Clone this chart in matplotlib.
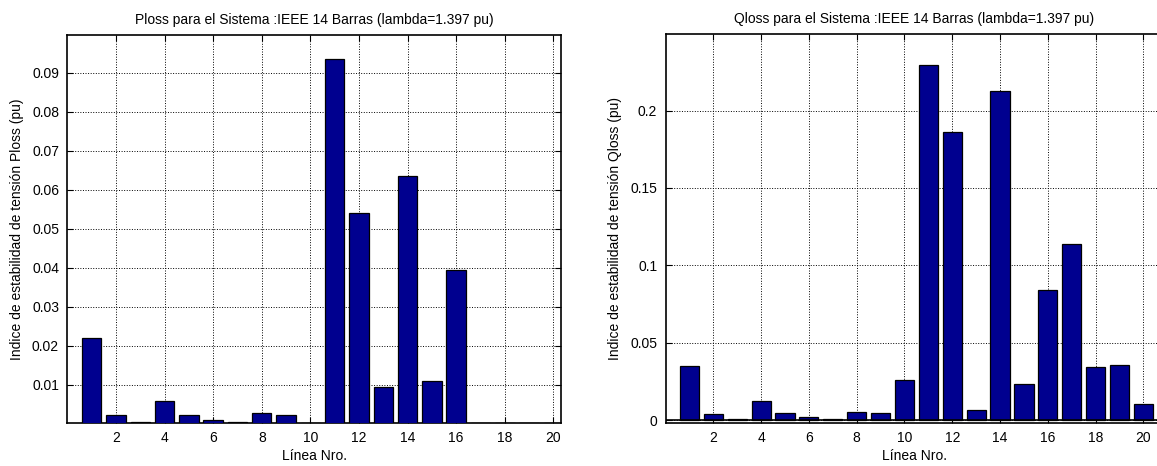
import numpy as np
import matplotlib
matplotlib.use("Agg")
import matplotlib.pyplot as plt

plt.rcParams['font.family'] = ['Liberation Sans', 'DejaVu Sans']

lineas = np.arange(1, 21)
ploss = [0.0219, 0.0022, 0.0004, 0.0059, 0.0022, 0.0010, 0.0004, 0.0028, 0.0022, 0.0002,
         0.0934, 0.0540, 0.0095, 0.0636, 0.0109, 0.0393, 0.0001, 0.0001, 0.0001, 0.0001]
qloss = [0.0350, 0.0039, 0.0005, 0.0121, 0.0047, 0.0018, 0.0010, 0.0054, 0.0047, 0.0259,
         0.2296, 0.1862, 0.0063, 0.2125, 0.0231, 0.0840, 0.1139, 0.0343, 0.0354, 0.0106]
xticks = np.arange(2, 21, 2)
yticks_p = [0.01, 0.02, 0.03, 0.04, 0.05, 0.06, 0.07, 0.08, 0.09]
yticks_q = [0, 0.05, 0.1, 0.15, 0.2]

titulo = "%s para el Sistema :IEEE 14 Barras (lambda=1.397 pu)"
ylab = "Indice de estabilidad de tensión %s (pu)"
azul = "#00008f"

fig = plt.figure(figsize=(11.57, 4.66), dpi=100)
ax1 = fig.add_axes([0.0582, 0.0923, 0.4264, 0.8333])
ax2 = fig.add_axes([0.5752, 0.0929, 0.4296, 0.8348])

for ax, vals, yt, ylim, nombre in [(ax1, ploss, yticks_p, (0.0002, 0.0997), "Ploss"),
                                   (ax2, qloss, yticks_q, (-0.0017, 0.2497), "Qloss")]:
    ax.bar(lineas, vals, width=0.8, color=azul, edgecolor="black", linewidth=0.9, zorder=3)
    ax.axhline(0, color="black", linewidth=1.2, zorder=4)
    ax.set_xticks(xticks)
    ax.set_yticks(yt)
    ax.set_yticklabels(["%g" % v for v in yt])
    ax.set_ylim(*ylim)
    ax.grid(True, linestyle=":", color="black", linewidth=0.7, zorder=0)
    ax.tick_params(direction="in", top=True, right=True, length=4, labelsize=10, pad=6)
    ax.set_title(titulo % nombre, fontsize=10, pad=8)
    ax.set_xlabel("Línea Nro.", fontsize=10, labelpad=3)
    ax.set_ylabel(ylab % nombre, fontsize=10, labelpad=6)
    for s in ax.spines.values():
        s.set_linewidth(1.2)

ax1.set_xlim(0, 20.3)
ax2.set_xlim(0, 20.8)

fig.savefig("out.png", dpi=100)
